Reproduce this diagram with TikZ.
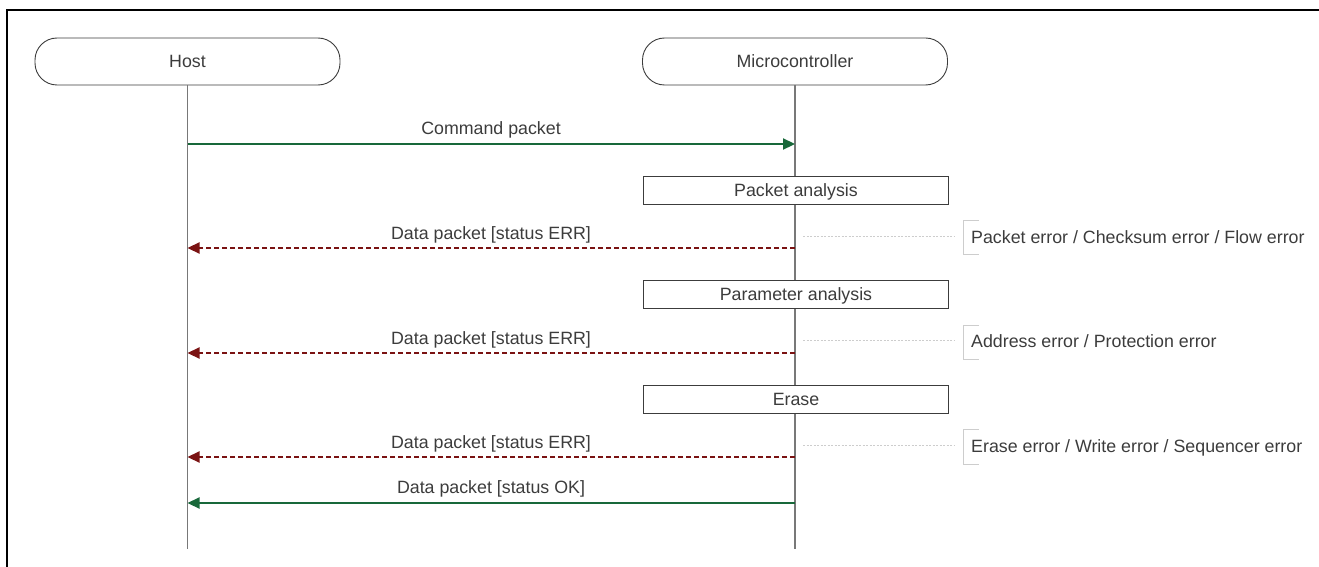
\documentclass[tikz,border=0pt]{standalone}
\usepackage{fontspec}
\setmainfont{Liberation Sans}
\usetikzlibrary{arrows.meta}
\definecolor{okgreen}{RGB}{24,104,58}
\definecolor{errred}{RGB}{122,18,18}
\definecolor{txt}{RGB}{60,60,60}
\definecolor{life}{RGB}{120,120,120}
\definecolor{faint}{RGB}{205,205,205}
\tikzset{
  every node/.style={font=\fontsize{17.8}{20}\selectfont, text=txt, text height=12.8pt, text depth=0pt},
  actor/.style={draw=txt, line width=0.9pt, rounded corners=22pt, minimum width=305pt, minimum height=47pt, inner sep=0pt},
  stepbox/.style={draw=txt, line width=1pt, minimum width=305pt, minimum height=28pt, inner sep=0pt},
  lifeline/.style={draw=life, line width=1.3pt},
  okarrow/.style={draw=okgreen, line width=2.2pt, -{Triangle[length=12pt,width=11pt]}},
  errarrow/.style={draw=errred, line width=2.2pt, dash pattern=on 5pt off 3pt, -{Triangle[length=12pt,width=11pt]}},
  guide/.style={draw=faint, line width=0.8pt, dash pattern=on 2pt off 1.5pt},
  bracket/.style={draw=faint, line width=1pt},
  msg/.style={inner sep=0pt},
  note/.style={anchor=west, inner sep=0pt},
}
\begin{document}
\begin{tikzpicture}[x=1pt,y=-1pt]
\useasboundingbox (0,0) rectangle (1319,567);
% frame
\draw[line width=2.2pt] (7,567) -- (7,10) -- (1319,10);

% actors
\node[actor] (host) at (187.5,61.5) {Host};
\node[actor] (mcu) at (795,61.5) {Microcontroller};
\coordinate (hostend) at (187.5,549);
\coordinate (mcuend) at (795,549);
\draw[lifeline] (host.south) -- (hostend);
\draw[lifeline] (mcu.south) -- (mcuend);

% lifeline points
\coordinate (h1) at (187.5,144);
\coordinate (m1) at (795,144);
\coordinate (h2) at (187.5,248);
\coordinate (m2) at (795,248);
\coordinate (h3) at (187.5,353);
\coordinate (m3) at (795,353);
\coordinate (h4) at (187.5,457);
\coordinate (m4) at (795,457);
\coordinate (h5) at (187.5,503);
\coordinate (m5) at (795,503);

% command
\draw[okarrow] (h1) -- (m1);
\node[msg] (lcmd) at (491,128) {Command packet};

% step boxes
\node[stepbox, fill=white] (pa) at (796,190) {Packet analysis};
\node[stepbox, fill=white] (pr) at (796,294.5) {Parameter analysis};
\node[stepbox, fill=white] (er) at (796,399.5) {Erase};

% error returns
\draw[errarrow] (m2) -- (h2);
\node[msg] (l2) at (491,233) {Data packet [status ERR]};
\draw[errarrow] (m3) -- (h3);
\node[msg] (l3) at (491,338) {Data packet [status ERR]};
\draw[errarrow] (m4) -- (h4);
\node[msg] (l4) at (491,442) {Data packet [status ERR]};

% ok return
\draw[okarrow] (m5) -- (h5);
\node[msg] (l5) at (491,487) {Data packet [status OK]};

% notes
\node[note] (n1) at (971,237) {Packet error / Checksum error / Flow error};
\node[note] (n2) at (971,341) {Address error / Protection error};
\node[note] (n3) at (971,446) {Erase error / Write error / Sequencer error};

\coordinate (g1a) at (803,236);
\coordinate (g1b) at (955,236);
\coordinate (g2a) at (803,340);
\coordinate (g2b) at (955,340);
\coordinate (g3a) at (803,445);
\coordinate (g3b) at (955,445);
\draw[guide] (g1a) -- (g1b);
\draw[guide] (g2a) -- (g2b);
\draw[guide] (g3a) -- (g3b);

\draw[bracket] (979,220) -- (963,220) -- (963,254) -- (979,254);
\draw[bracket] (979,325) -- (963,325) -- (963,359) -- (979,359);
\draw[bracket] (979,429) -- (963,429) -- (963,464) -- (979,464);
\end{tikzpicture}
\end{document}
